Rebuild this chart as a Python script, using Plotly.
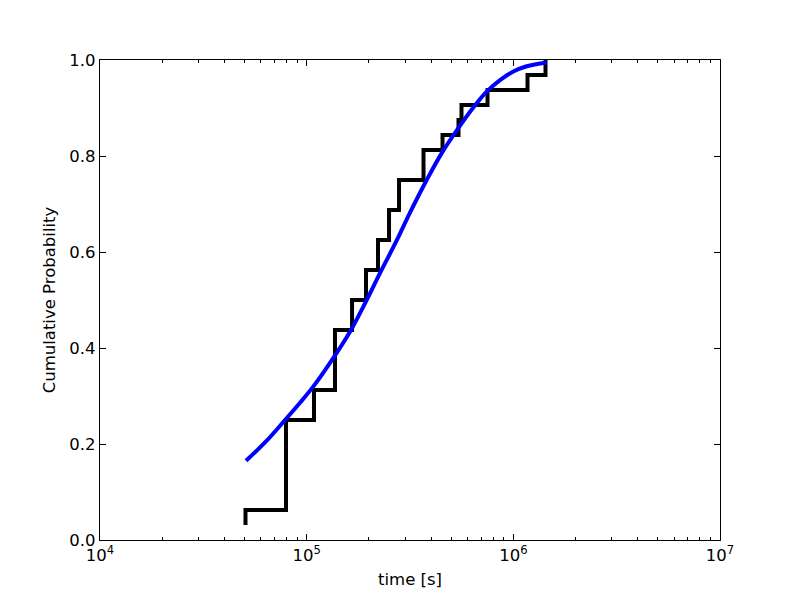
import plotly.graph_objects as go

# Empirical CDF (step) data
step_time = [50580, 50580, 79430, 108500, 137100, 165800, 193700, 221400, 250300,
             279800, 367600, 454300, 542800, 561300, 749900, 1171000, 1431000]
step_prob = [0.03125, 0.0625, 0.25, 0.3125, 0.4375, 0.5, 0.5625, 0.625, 0.6875,
             0.75, 0.8125, 0.84375, 0.875, 0.90625, 0.9375, 0.96875, 1.0]

# Fitted CDF curve
fit_time = [50880, 64070, 78570, 92850, 107800, 129700, 162000, 195200, 226300,
            272700, 316200, 380900, 450300, 541700, 640200, 743200, 862100,
            1000000, 1160000, 1450000]
fit_prob = [0.165, 0.207, 0.25, 0.286, 0.32, 0.369, 0.434, 0.5, 0.556,
            0.624, 0.682, 0.75, 0.806, 0.858, 0.901, 0.934, 0.958,
            0.976, 0.987, 0.995]

x_tickvals = [1e4, 1e5, 1e6, 1e7]
x_ticktext = ["10<sup>4</sup>", "10<sup>5</sup>", "10<sup>6</sup>", "10<sup>7</sup>"]
y_tickvals = [0.0, 0.2, 0.4, 0.6, 0.8, 1.0]
y_ticktext = ["0.0", "0.2", "0.4", "0.6", "0.8", "1.0"]

fig = go.Figure()
fig.add_trace(go.Scatter(x=step_time, y=step_prob, mode="lines",
                         line=dict(color="black", width=4, shape="hv"),
                         showlegend=False))
fig.add_trace(go.Scatter(x=fit_time, y=fit_prob, mode="lines",
                         line=dict(color="#0000ff", width=4, shape="spline", smoothing=1.0),
                         showlegend=False))

font = dict(family="DejaVu Sans", size=16.5, color="black")
fig.update_layout(
    width=792, height=592,
    margin=dict(l=92, r=80, t=52, b=60, autoexpand=False),
    paper_bgcolor="white", plot_bgcolor="white",
    font=font,
    xaxis=dict(type="log", range=[4, 7], tickvals=x_tickvals, ticktext=x_ticktext,
               ticks="inside", ticklen=6, tickwidth=1, tickcolor="black",
               showline=True, linecolor="black", linewidth=1.3, mirror="ticks",
               showgrid=False, zeroline=False,
               minor=dict(ticks="inside", ticklen=3, tickwidth=1, tickcolor="black",
                          dtick="D1", showgrid=False),
               title=dict(text="time [s]", standoff=9, font=font),
               automargin=False),
    yaxis=dict(range=[0, 1], tickvals=y_tickvals, ticktext=y_ticktext,
               ticks="inside", ticklen=6, tickwidth=1, tickcolor="black",
               showline=True, linecolor="black", linewidth=1.3, mirror="ticks",
               showgrid=False, zeroline=False,
               title=dict(text="Cumulative Probability", standoff=9, font=font),
               automargin=False),
)

fig.write_html("out.html")
